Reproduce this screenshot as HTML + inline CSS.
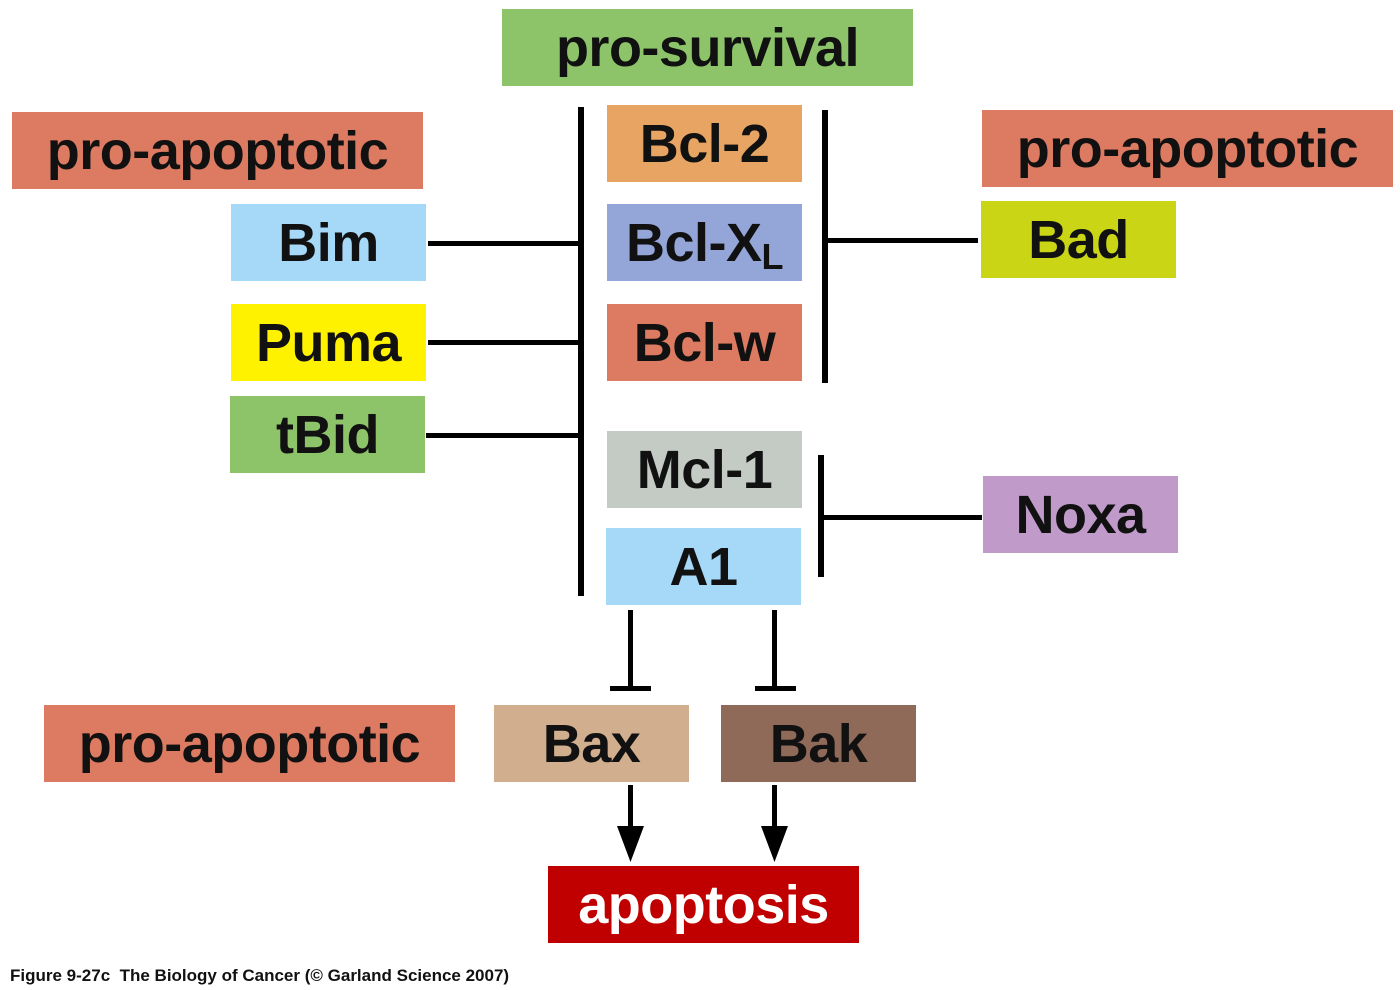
<!DOCTYPE html>
<html><head><meta charset="utf-8"><style>
body{margin:0;width:1400px;height:990px;background:#fff;position:relative;overflow:hidden;font-family:"Liberation Sans","DejaVu Sans",sans-serif;}
.b{position:absolute;display:flex;align-items:center;justify-content:center;font-weight:bold;font-size:54px;color:#111;height:77px;letter-spacing:-0.5px}
.l{position:absolute;background:#000}
sub{font-size:36px;position:relative;top:14px;vertical-align:baseline}
.cap{position:absolute;left:10px;top:966px;font-size:17px;font-weight:bold;color:#111}
</style></head><body>
<div class="b" style="left:502px;top:9px;width:411px;background:#8dc46a">pro-survival</div>
<div class="b" style="left:12px;top:112px;width:411px;background:#dc7b61">pro-apoptotic</div>
<div class="b" style="left:982px;top:110px;width:411px;background:#dc7b61">pro-apoptotic</div>
<div class="b" style="left:44px;top:705px;width:411px;background:#dc7b61">pro-apoptotic</div>
<div class="b" style="left:607px;top:105px;width:195px;background:#e8a463">Bcl-2</div>
<div class="b" style="left:607px;top:204px;width:195px;background:#94a6d8">Bcl-X<sub>L</sub></div>
<div class="b" style="left:607px;top:304px;width:195px;background:#dc7b61">Bcl-w</div>
<div class="b" style="left:607px;top:431px;width:195px;background:#c3cbc4">Mcl-1</div>
<div class="b" style="left:606px;top:528px;width:195px;background:#a6d8f8">A1</div>
<div class="b" style="left:231px;top:204px;width:195px;background:#a6d8f8">Bim</div>
<div class="b" style="left:231px;top:304px;width:195px;background:#fff200">Puma</div>
<div class="b" style="left:230px;top:396px;width:195px;background:#8dc46a">tBid</div>
<div class="b" style="left:981px;top:201px;width:195px;background:#cad516">Bad</div>
<div class="b" style="left:983px;top:476px;width:195px;background:#c09ac9">Noxa</div>
<div class="b" style="left:494px;top:705px;width:195px;background:#d1ae8e">Bax</div>
<div class="b" style="left:721px;top:705px;width:195px;background:#8f6a58">Bak</div>
<div class="b" style="left:548px;top:866px;width:311px;background:#c00000;color:#fff">apoptosis</div>

<div class="l" style="left:578px;top:107px;width:6px;height:489px"></div>
<div class="l" style="left:428px;top:241px;width:152px;height:5px"></div>
<div class="l" style="left:428px;top:340px;width:152px;height:5px"></div>
<div class="l" style="left:426px;top:433px;width:154px;height:5px"></div>
<div class="l" style="left:822px;top:110px;width:6px;height:273px"></div>
<div class="l" style="left:826px;top:238px;width:152px;height:5px"></div>
<div class="l" style="left:818px;top:455px;width:6px;height:122px"></div>
<div class="l" style="left:822px;top:515px;width:160px;height:5px"></div>
<div class="l" style="left:628px;top:610px;width:5px;height:80px"></div>
<div class="l" style="left:610px;top:686px;width:41px;height:5px"></div>
<div class="l" style="left:772px;top:610px;width:5px;height:80px"></div>
<div class="l" style="left:755px;top:686px;width:41px;height:5px"></div>
<svg style="position:absolute;left:0;top:0" width="1400" height="990">
<rect x="628" y="785" width="5" height="45" fill="#000"/>
<polygon points="617,826 644,826 630.5,862" fill="#000"/>
<rect x="772" y="785" width="5" height="45" fill="#000"/>
<polygon points="761,826 788,826 774.5,862" fill="#000"/>
</svg>
<div class="cap">Figure 9-27c&nbsp; The Biology of Cancer (© Garland Science 2007)</div>
</body></html>
